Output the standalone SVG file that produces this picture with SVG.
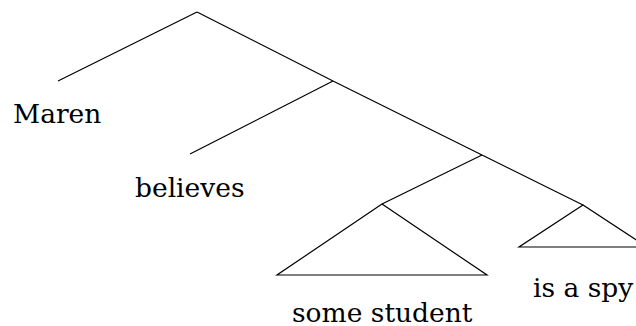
<svg xmlns="http://www.w3.org/2000/svg" width="636" height="326" viewBox="0 0 636 326">
<style>
.e{stroke:#000;stroke-width:1.2;fill:none}
.t{font-family:"DejaVu Serif",serif;font-size:26.5px;fill:#000}
</style>
<rect width="636" height="326" fill="#fff"/>
<g id="connectors">
<line class="e" x1="197" y1="12" x2="58" y2="81"/>
<line class="e" x1="197" y1="12" x2="333" y2="81"/>
<line class="e" x1="333" y1="81" x2="190" y2="154"/>
<line class="e" x1="333" y1="81" x2="482" y2="155"/>
<line class="e" x1="482" y1="155" x2="382" y2="204"/>
<line class="e" x1="482" y1="155" x2="583" y2="205"/>
</g>
<g id="n-maren"><text class="t" x="13" y="123">Maren</text></g>
<g id="n-believes"><text class="t" x="135" y="197">believes</text></g>
<g id="n-somestudent"><polygon class="e" points="382,204 277,275 487,275"/><text class="t" x="292" y="322">some student</text></g>
<g id="n-isaspy"><polygon class="e" points="583,205 519,247 647,247"/><text class="t" x="533" y="297">is a spy</text></g>
</svg>
